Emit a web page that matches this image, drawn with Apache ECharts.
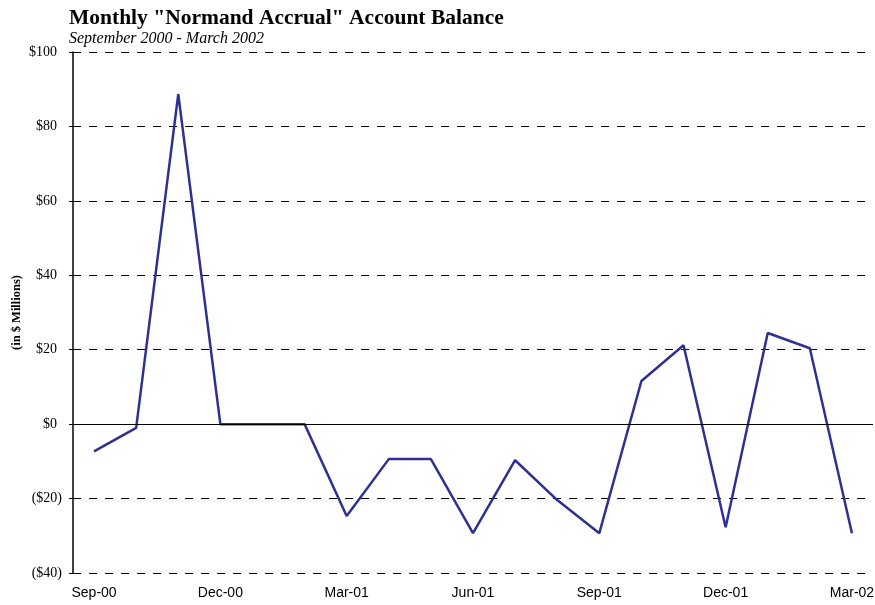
<!DOCTYPE html>
<html>
<head>
<meta charset="utf-8">
<script src="https://cdn.jsdelivr.net/npm/echarts@6/dist/echarts.min.js"></script>
<style>
  html,body{margin:0;padding:0;background:#fff;}
  #chart{width:875px;height:605px;}
</style>
</head>
<body>
<div id="chart"></div>
<script>
// months shown on the x axis
const months = ['Sep-00','Oct-00','Nov-00','Dec-00','Jan-01','Feb-01','Mar-01','Apr-01','May-01',
  'Jun-01','Jul-01','Aug-01','Sep-01','Oct-01','Nov-01','Dec-01','Jan-02','Feb-02','Mar-02']
// account balance, $ millions
const balance = [-7.3,-1,88.7,0,0,0,-24.7,-9.4,-9.4,-29.3,-9.7,-20.4,-29.3,11.6,21.2,-27.7,24.5,20.4,-29.3]

const chart = echarts.init(document.getElementById('chart'))

// excel style: negatives in brackets, positives padded so digits line up
const money = v => v < 0 ? '{n|($' + (-v) + ')}' : '{p|$' + v + '}'

let option = {
  animation:false,
  title:[
    {
      text:'Monthly "Normand Accrual" Account Balance',
      left:64, top:2,
      textStyle:{fontFamily:'Liberation Serif',fontWeight:'bold',fontSize:21.5,color:'#000'}
    },
    {
      text:'September 2000 - March 2002',
      left:64, top:26,
      textStyle:{fontFamily:'Liberation Serif',fontStyle:'italic',fontWeight:'normal',fontSize:16,color:'#000'}
    }
  ],
  grid:{left:73, right:2, top:52, bottom:32, outerBoundsMode:'none'},
  xAxis:{
    type:'category',
    data:months,
    boundaryGap:true,
    axisLine:{show:false},
    axisTick:{show:false},
    axisLabel:{
      interval:2,
      margin:13,
      fontFamily:'Liberation Sans',
      fontSize:14,
      color:'#000'
    }
  },
  yAxis:{
    type:'value',
    min:-40, max:100, interval:20,
    name:'(in $ Millions)',
    nameLocation:'middle',
    nameGap:50,
    nameRotate:90,
    nameMoveOverlap:false,
    nameTextStyle:{fontFamily:'Liberation Serif',fontWeight:'bold',fontSize:12.5,color:'#000'},
    axisLine:{show:true,lineStyle:{color:'#000',width:1.5}},
    axisTick:{show:true,length:4,lineStyle:{color:'#000'}},
    axisLabel:{
      formatter:money,
      margin:11,
      rich:{
        p:{fontFamily:'Liberation Serif',fontSize:14,color:'#000',padding:[0,5,0,0]},
        n:{fontFamily:'Liberation Serif',fontSize:14,color:'#000'}
      }
    },
    splitLine:{show:true,lineStyle:{color:'#000',type:[8,8],width:1}}
  },
  series:[
    {
      type:'line',
      data:balance,
      symbol:'none',
      lineStyle:{color:'#2e3192',width:2.5},
      markLine:{
        silent:true,
        symbol:'none',
        label:{show:false},
        lineStyle:{color:'#000',type:'solid',width:1},
        data:[{yAxis:0}]
      },
      z:3
    }
  ]
}
chart.setOption(option)
</script>
</body>
</html>
